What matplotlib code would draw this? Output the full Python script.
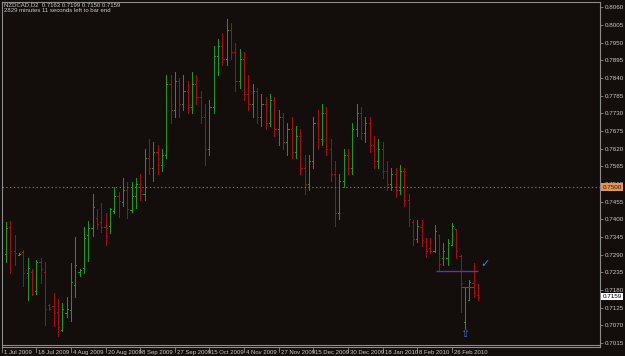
import matplotlib
matplotlib.use("Agg")
import numpy as np
from matplotlib import pyplot as plt

# NZDCAD D2 bars (oldest first)
opens = [
    .7292, .7376, .7301, .7290, .7298, .7233, .7236, .7177, .7267, .7236,
    .7133, .7130, .7111, .7055, .7108, .7117, .7195, .7236, .7248, .7351,
    .7373, .7404, .7391, .7376, .7379, .7426, .7472, .7454, .7491, .7429,
    .7472, .7510, .7480, .7590, .7560, .7610, .7570, .7600, .7820, .7740,
    .7830, .7760, .7800, .7750, .7820, .7780, .7720, .7620, .7750, .7910,
    .7940, .7900, .7990, .7920, .7830, .7900, .7790, .7760, .7800, .7720,
    .7760, .7700, .7770, .7680, .7720, .7640, .7680, .7610, .7660, .7560,
    .7510, .7580, .7700, .7650, .7730, .7620, .7540, .7420, .7520, .7600,
    .7560, .7680, .7730, .7670, .7700, .7630, .7580, .7620, .7550, .7510,
    .7540, .7490, .7550, .7460, .7390, .7340, .7375, .7330, .7310, .7300,
    .7350, .7280, .7280, .7320, .7370, .7285, .7080, .7150, .7200, .7163,
]
highs = [
    .7391, .7395, .7351, .7295, .7304, .7279, .7245, .7273, .7279, .7267,
    .7136, .7170, .7152, .7139, .7158, .7264, .7345, .7245, .7376, .7395,
    .7479, .7432, .7451, .7420, .7435, .7500, .7485, .7528, .7516, .7516,
    .7530, .7540, .7620, .7650, .7640, .7630, .7620, .7850, .7850, .7860,
    .7840, .7850, .7830, .7860, .7850, .7800, .7760, .7770, .7940, .7960,
    .7980, .8025, .8010, .7950, .7930, .7920, .7850, .7820, .7810, .7790,
    .7780, .7790, .7780, .7740, .7730, .7700, .7720, .7690, .7680, .7600,
    .7600, .7720, .7740, .7760, .7750, .7650, .7580, .7540, .7620, .7620,
    .7700, .7760, .7750, .7720, .7720, .7660, .7650, .7640, .7580, .7560,
    .7560, .7570, .7560, .7480, .7398, .7398, .7398, .7342, .7342, .7382,
    .7351, .7326, .7339, .7388, .7370, .7289, .7186, .7211, .7264, .7199,
]
lows = [
    .7267, .7233, .7258, .7289, .7192, .7148, .7164, .7167, .7201, .7071,
    .7117, .7068, .7037, .7052, .7096, .7083, .7158, .7223, .7233, .7270,
    .7348, .7370, .7360, .7320, .7357, .7420, .7407, .7441, .7404, .7423,
    .7435, .7460, .7460, .7540, .7520, .7540, .7550, .7590, .7700, .7720,
    .7720, .7740, .7730, .7730, .7760, .7700, .7570, .7600, .7730, .7850,
    .7880, .7880, .7900, .7800, .7810, .7770, .7740, .7720, .7700, .7690,
    .7680, .7690, .7660, .7630, .7620, .7600, .7590, .7590, .7540, .7480,
    .7490, .7560, .7620, .7630, .7600, .7520, .7380, .7400, .7500, .7540,
    .7540, .7660, .7650, .7640, .7610, .7560, .7560, .7530, .7490, .7490,
    .7470, .7480, .7440, .7380, .7320, .7329, .7317, .7282, .7295, .7298,
    .7242, .7258, .7258, .7320, .7279, .7111, .7061, .7149, .7158, .7150,
]
closes = [
    .7373, .7301, .7295, .7293, .7233, .7248, .7167, .7267, .7245, .7120,
    .7120, .7108, .7065, .7120, .7120, .7205, .7258, .7242, .7342, .7373,
    .7438, .7385, .7376, .7373, .7432, .7472, .7457, .7491, .7432, .7472,
    .7510, .7480, .7590, .7560, .7610, .7570, .7600, .7820, .7740, .7830,
    .7760, .7800, .7750, .7820, .7780, .7720, .7620, .7750, .7910, .7940,
    .7900, .7990, .7920, .7830, .7900, .7790, .7760, .7800, .7720, .7760,
    .7700, .7770, .7680, .7720, .7640, .7680, .7610, .7660, .7560, .7510,
    .7580, .7700, .7650, .7730, .7620, .7540, .7420, .7520, .7600, .7560,
    .7680, .7730, .7670, .7700, .7630, .7580, .7620, .7550, .7510, .7540,
    .7490, .7550, .7460, .7400, .7340, .7380, .7335, .7300, .7300, .7365,
    .7260, .7300, .7325, .7380, .7300, .7200, .7190, .7205, .7170, .7159,
]

price_ticks = [0.8060, 0.8005, 0.7950, 0.7895, 0.7840, 0.7785, 0.7730, 0.7675,
               0.7620, 0.7565, 0.7510, 0.7455, 0.7400, 0.7345, 0.7290, 0.7235,
               0.7180, 0.7125, 0.7070, 0.7015]
date_bars = [-1, 7, 15, 23, 31, 39, 47, 55, 63, 71, 79, 87, 95, 103]
date_labels = ["1 Jul 2009", "18 Jul 2009", "4 Aug 2009", "20 Aug 2009",
               "8 Sep 2009", "27 Sep 2009", "15 Oct 2009", "4 Nov 2009",
               "27 Nov 2009", "15 Dec 2009", "30 Dec 2009", "18 Jan 2010",
               "8 Feb 2010", "26 Feb 2010"]
hline_level = 0.7500
bid = 0.7159
purple_level = 0.7240
purple_level2 = 0.7189

bg = '#130e0b'
grey = '#8c8c8c'
txt = '#c8c8c8'
up_col = '#12a012'
dn_col = '#a80c0c'
plt.rcParams['font.family'] = ['Liberation Sans', 'DejaVu Sans']

fig = plt.figure(figsize=(6.25, 3.56), dpi=100, facecolor=bg)
W, H = 625, 356
ax = fig.add_axes([2 / W, (H - 347) / H, 598 / W, 345 / H], facecolor=bg)
y0, y1 = 0.70021, 0.80768

o = np.array(opens)
h = np.array(highs)
l = np.array(lows)
c = np.array(closes)
idx = np.arange(len(o))
cols = np.where(c >= o, up_col, dn_col)

lw = 0.72
tick = 0.26
ax.vlines(idx, l, h, colors=cols, linewidth=lw, antialiased=False)
ax.hlines(o, idx - tick, idx, colors=cols, linewidth=lw, antialiased=False)
ax.hlines(c, idx, idx + tick, colors=cols, linewidth=lw, antialiased=False)

# horizontal level and drawings
ax.axhline(hline_level, color='#9a6a40', linewidth=0.8, linestyle=(0, (1.2, 2.2)))
ax.hlines(purple_level, 99.3, 109, colors='#7328b8', linewidth=1.0)
ax.hlines(purple_level2, 105.1, 108.0, colors='#7328b8', linewidth=0.8)
ax.text(110.6, 0.7262, '\u2713', color='#4a80d8', fontsize=8, ha='center', va='center',
        family='DejaVu Sans')
ax.text(105.9, 0.7043, '\u21e7', color='#3d6cc8', fontsize=8, ha='center', va='center',
        family='DejaVu Sans')

ax.set_xlim(-0.92, 137.2)
ax.set_ylim(y0, y1)

for s in ax.spines.values():
    s.set_color(grey)
    s.set_linewidth(0.8)

ax.set_xticks([])
ax.yaxis.tick_right()
ax.set_yticks(price_ticks)
ax.set_yticklabels(['%.4f' % p for p in price_ticks])
ax.tick_params(axis='y', colors=grey, labelcolor=txt, labelsize=4.5,
               length=2, width=0.6, pad=1.2)

# price boxes on the scale
ax.text(1.004, (hline_level - y0) / (y1 - y0), '%.4f' % hline_level,
        transform=ax.transAxes, fontsize=4.5, color='#1a1a1a', va='center', ha='left',
        bbox=dict(boxstyle='square,pad=0.2', fc='#e8944a', ec='none'))
ax.text(1.004, (bid - y0) / (y1 - y0), '%.4f' % bid,
        transform=ax.transAxes, fontsize=4.5, color='black', va='center', ha='left',
        bbox=dict(boxstyle='square,pad=0.2', fc='white', ec='none'))

# bottom double line and date scale
fig.add_artist(plt.Line2D([2 / W, 600 / W], [(H - 344.5) / H] * 2, color=grey, linewidth=0.8))
for b, lab in zip(date_bars, date_labels):
    xf = (2 + (b + 0.92) * (598 / 138.12)) / W
    fig.add_artist(plt.Line2D([xf, xf], [(H - 347) / H, (H - 352) / H], color=grey, linewidth=0.6))
    fig.text(xf + 2 / W, (H - 350) / H, lab, fontsize=4.3, color=txt, va='top', ha='left')

fig.text(4 / W, (H - 2) / H, 'NZDCAD,D2  0.7163 0.7199 0.7150 0.7159', fontsize=4.3,
         color=txt, va='top', ha='left')
fig.text(4 / W, (H - 8.5) / H, '2829 minutes 11 seconds left to bar end', fontsize=4.3,
         color=txt, va='top', ha='left')

fig.savefig('out.png', dpi=100, facecolor=bg)
